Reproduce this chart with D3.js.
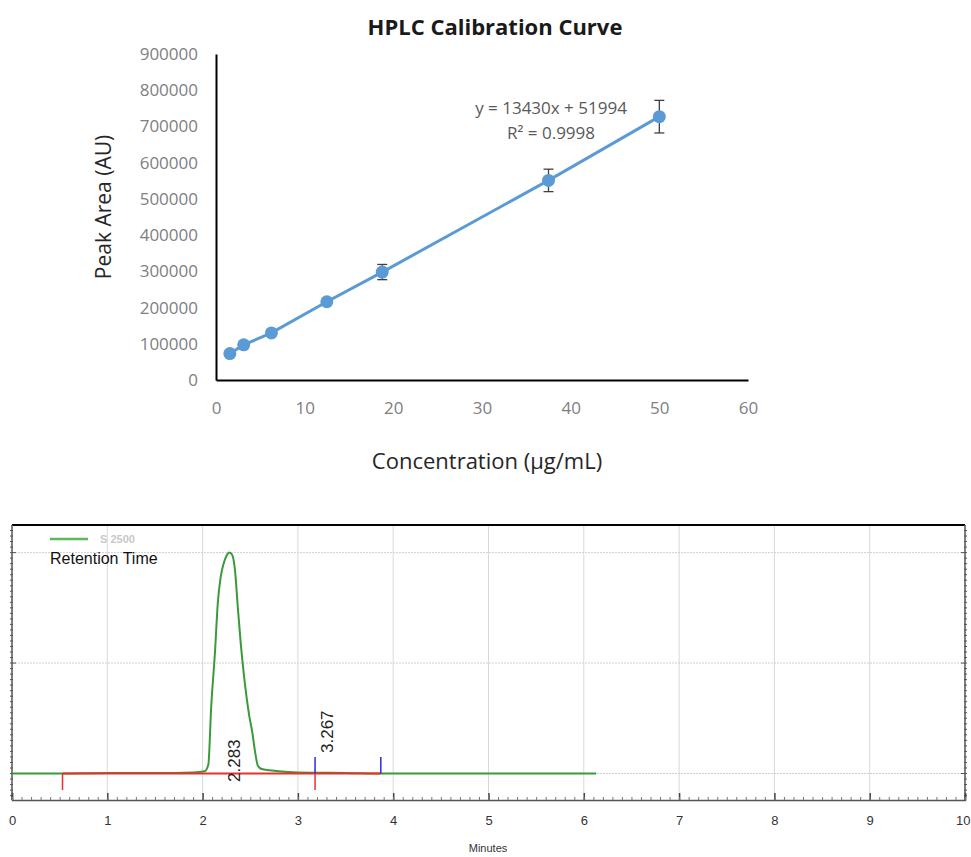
<!DOCTYPE html>
<html>
<head>
<meta charset="utf-8">
<script src="https://cdn.jsdelivr.net/npm/d3@7"></script>
<style>
  body { margin: 0; background: #fff; }
</style>
</head>
<body>
<div id="chart"></div>
<script>
// calibration data
var concentrations = [1.5625, 3.125, 6.25, 12.5, 18.75, 37.5, 50];
var peakAreas = [73000, 97000, 130000, 216000, 298000, 551000, 727000];
var peakErrors = [5000, 5000, 5000, 5000, 21000, 31000, 45000];
var areaTicks = [0, 100000, 200000, 300000, 400000, 500000, 600000, 700000, 800000, 900000];
var concTicks = [0, 10, 20, 30, 40, 50, 60];

// chromatogram data
var traceTimes = [0, 0.5, 1.0, 1.5, 1.9, 2.02, 2.06, 2.09, 2.13, 2.16, 2.19, 2.22, 2.25, 2.28, 2.31, 2.34, 2.37, 2.40, 2.43, 2.46, 2.49, 2.52, 2.55, 2.58, 2.62, 2.7, 2.8, 3.0, 3.5, 4.0, 5.0, 6.13];
var traceSignal = [0, 0, 0.5, 0.5, 1, 2, 8, 60, 110, 155, 178, 190, 197, 200, 198, 184, 150, 118, 92, 70, 52, 38, 20, 7, 4, 3, 2, 1, 0.5, 0, 0, 0];
var minuteTicks = [0, 1, 2, 3, 4, 5, 6, 7, 8, 9, 10];
var signalGrid = [0, 100, 200];
var baselineRange = [0.53, 3.87];
var startMarks = [0.53, 3.18];
var endMarks = [3.18, 3.87];
var peakLabels = [2.283, 3.267];

var svg = d3.select('#chart')
  .append('svg')
  .attr('width', 971)
  .attr('height', 857)
  .style('font-family', 'Open Sans, sans-serif');

// ---------- top chart ----------
var scaleX = d3.scaleLinear().domain([0, 60]).range([216, 748]);
var scaleY = d3.scaleLinear().domain([0, 900000]).range([380, 54]);

svg.append('text')
  .attr('x', 495).attr('y', 35)
  .attr('text-anchor', 'middle')
  .attr('font-size', 22).attr('font-weight', 'bold')
  .attr('fill', '#1a1a1a')
  .text('HPLC Calibration Curve');

var axisY = d3.axisLeft(scaleY).tickValues(areaTicks).tickSize(0).tickPadding(18)
  .tickFormat(d3.format('d'));
var gy = svg.append('g').attr('transform', 'translate(216,0)').call(axisY);
gy.select('.domain').attr('stroke', '#000').attr('stroke-width', 2);
gy.selectAll('text').attr('font-size', 17).attr('fill', '#808080').attr('font-family', 'Open Sans, sans-serif');

var axisX = d3.axisBottom(scaleX).tickValues(concTicks).tickSize(0).tickPadding(22);
var gx = svg.append('g').attr('transform', 'translate(0,380)').call(axisX);
gx.select('.domain').attr('stroke', '#000').attr('stroke-width', 2);
gx.selectAll('text').attr('font-size', 17).attr('fill', '#808080').attr('font-family', 'Open Sans, sans-serif');

svg.append('text')
  .attr('transform', 'translate(111,207) rotate(-90)')
  .attr('text-anchor', 'middle')
  .attr('font-size', 21).attr('fill', '#262626')
  .text('Peak Area (AU)');

svg.append('text')
  .attr('x', 487).attr('y', 469)
  .attr('text-anchor', 'middle')
  .attr('font-size', 22).attr('fill', '#262626')
  .text('Concentration (\u00b5g/mL)');

var calib = concentrations.map(function (c, i) {
  return { x: c, y: peakAreas[i], e: peakErrors[i] };
});

var lineFunc = d3.line()
  .x(function (d) { return scaleX(d.x); })
  .y(function (d) { return scaleY(d.y); });

svg.append('path')
  .attr('d', lineFunc(calib))
  .attr('stroke', '#5B9BD5')
  .attr('stroke-width', 3)
  .attr('fill', 'none');

var err = svg.append('g').selectAll('g').data(calib).enter().append('g')
  .attr('stroke', '#404040').attr('stroke-width', 1.3);
err.append('line')
  .attr('x1', function (d) { return scaleX(d.x); })
  .attr('x2', function (d) { return scaleX(d.x); })
  .attr('y1', function (d) { return scaleY(d.y + d.e); })
  .attr('y2', function (d) { return scaleY(d.y - d.e); });
err.append('line')
  .attr('x1', function (d) { return scaleX(d.x) - 5; })
  .attr('x2', function (d) { return scaleX(d.x) + 5; })
  .attr('y1', function (d) { return scaleY(d.y + d.e); })
  .attr('y2', function (d) { return scaleY(d.y + d.e); });
err.append('line')
  .attr('x1', function (d) { return scaleX(d.x) - 5; })
  .attr('x2', function (d) { return scaleX(d.x) + 5; })
  .attr('y1', function (d) { return scaleY(d.y - d.e); })
  .attr('y2', function (d) { return scaleY(d.y - d.e); });

svg.append('g').selectAll('circle').data(calib).enter().append('circle')
  .attr('cx', function (d) { return scaleX(d.x); })
  .attr('cy', function (d) { return scaleY(d.y); })
  .attr('r', 6.5)
  .attr('fill', '#5B9BD5');

svg.append('text')
  .attr('x', 551).attr('y', 114)
  .attr('text-anchor', 'middle')
  .attr('font-size', 17).attr('fill', '#595959')
  .text('y = 13430x + 51994');
svg.append('text')
  .attr('x', 551).attr('y', 139)
  .attr('text-anchor', 'middle')
  .attr('font-size', 17).attr('fill', '#595959')
  .text('R\u00b2 = 0.9998');

// ---------- bottom chart ----------
var tX = d3.scaleLinear().domain([0, 10]).range([12, 965]);
var tY = d3.scaleLinear().domain([-24, 225]).range([800, 525]);
var chromo = svg.append('g').style('font-family', 'Liberation Sans, Arial, sans-serif');

// grid
chromo.append('g').selectAll('line').data(minuteTicks.slice(1, -1)).enter().append('line')
  .attr('x1', function (d) { return tX(d); }).attr('x2', function (d) { return tX(d); })
  .attr('y1', 525).attr('y2', 800)
  .attr('stroke', '#d9d9d9').attr('stroke-width', 1);
chromo.append('g').selectAll('line').data(signalGrid).enter().append('line')
  .attr('x1', 12).attr('x2', 965)
  .attr('y1', function (d) { return tY(d); }).attr('y2', function (d) { return tY(d); })
  .attr('stroke', '#cfcfcf').attr('stroke-width', 1).attr('stroke-dasharray', '2,1');

// frame
chromo.append('line').attr('x1', 12).attr('x2', 965).attr('y1', 525).attr('y2', 525)
  .attr('stroke', '#000').attr('stroke-width', 2);
chromo.append('line').attr('x1', 12).attr('x2', 12).attr('y1', 525).attr('y2', 800)
  .attr('stroke', '#555').attr('stroke-width', 1.5);
chromo.append('line').attr('x1', 965).attr('x2', 965).attr('y1', 525).attr('y2', 800)
  .attr('stroke', '#555').attr('stroke-width', 1.5);

// side minor ticks
var sideTicks = d3.ticks(-20, 220, 48);
chromo.append('g').selectAll('line').data(sideTicks).enter().append('line')
  .attr('x1', 10).attr('x2', function (d) { return signalGrid.indexOf(d) >= 0 ? 16 : 13; })
  .attr('y1', function (d) { return tY(d); }).attr('y2', function (d) { return tY(d); })
  .attr('stroke', '#555');
chromo.append('g').selectAll('line').data(sideTicks).enter().append('line')
  .attr('x1', 967).attr('x2', function (d) { return signalGrid.indexOf(d) >= 0 ? 961 : 964; })
  .attr('y1', function (d) { return tY(d); }).attr('y2', function (d) { return tY(d); })
  .attr('stroke', '#555');

// bottom axis
var axisT = d3.axisBottom(tX).tickValues(minuteTicks).tickSize(-7).tickPadding(16);
var gt = chromo.append('g').attr('transform', 'translate(0,800)').call(axisT);
gt.select('.domain').attr('stroke', '#555').attr('stroke-width', 1.5);
gt.selectAll('.tick line').attr('stroke', '#444').attr('stroke-width', 1.5);
gt.selectAll('text').attr('font-size', 13).attr('fill', '#333').attr('font-family', 'Liberation Sans, Arial, sans-serif');
// keep the last label inside the page
gt.selectAll('text').filter(function (d) { return d === 10; })
  .attr('text-anchor', 'end').attr('x', 5);
var minorT = d3.axisBottom(tX).ticks(100).tickSize(-3).tickFormat('');
var gm = chromo.append('g').attr('transform', 'translate(0,800)').call(minorT);
gm.select('.domain').remove();
gm.selectAll('.tick line').attr('stroke', '#777');

chromo.append('text')
  .attr('x', 488).attr('y', 852)
  .attr('text-anchor', 'middle')
  .attr('font-size', 11).attr('fill', '#333')
  .text('Minutes');

// trace
var trace = traceTimes.map(function (t, i) { return { t: t, v: traceSignal[i] }; });
var traceLine = d3.line()
  .x(function (d) { return tX(d.t); })
  .y(function (d) { return tY(d.v); })
  .curve(d3.curveMonotoneX);
chromo.append('path')
  .attr('d', traceLine(trace))
  .attr('stroke', '#3a9a3a').attr('stroke-width', 2).attr('fill', 'none');

// baseline
chromo.append('line')
  .attr('x1', tX(baselineRange[0])).attr('x2', tX(baselineRange[1]))
  .attr('y1', tY(0)).attr('y2', tY(0))
  .attr('stroke', '#e8312a').attr('stroke-width', 2);

chromo.append('g').selectAll('line').data(startMarks).enter().append('line')
  .attr('x1', function (d) { return tX(d); }).attr('x2', function (d) { return tX(d); })
  .attr('y1', tY(0)).attr('y2', tY(-15))
  .attr('stroke', '#e8312a').attr('stroke-width', 1.5);
chromo.append('g').selectAll('line').data(endMarks).enter().append('line')
  .attr('x1', function (d) { return tX(d); }).attr('x2', function (d) { return tX(d); })
  .attr('y1', tY(0)).attr('y2', tY(15))
  .attr('stroke', '#2a2ae8').attr('stroke-width', 1.5);

chromo.append('g').selectAll('text').data(peakLabels).enter().append('text')
  .attr('transform', function (d, i) {
    return 'translate(' + (tX(d) + 10) + ',' + (i === 0 ? 782 : 753) + ') rotate(-90)';
  })
  .attr('font-size', 17).attr('fill', '#222')
  .text(function (d) { return d3.format('.3f')(d); });

// legend
chromo.append('line').attr('x1', 50).attr('x2', 88).attr('y1', 539).attr('y2', 539)
  .attr('stroke', '#5cb85c').attr('stroke-width', 2.5);
chromo.append('text').attr('x', 100).attr('y', 543)
  .attr('font-size', 11).attr('font-weight', 'bold').attr('fill', '#c8c8c8')
  .text('S 2500');
chromo.append('text').attr('x', 50).attr('y', 564)
  .attr('font-size', 16).attr('fill', '#111')
  .text('Retention Time');
</script>
</body>
</html>
